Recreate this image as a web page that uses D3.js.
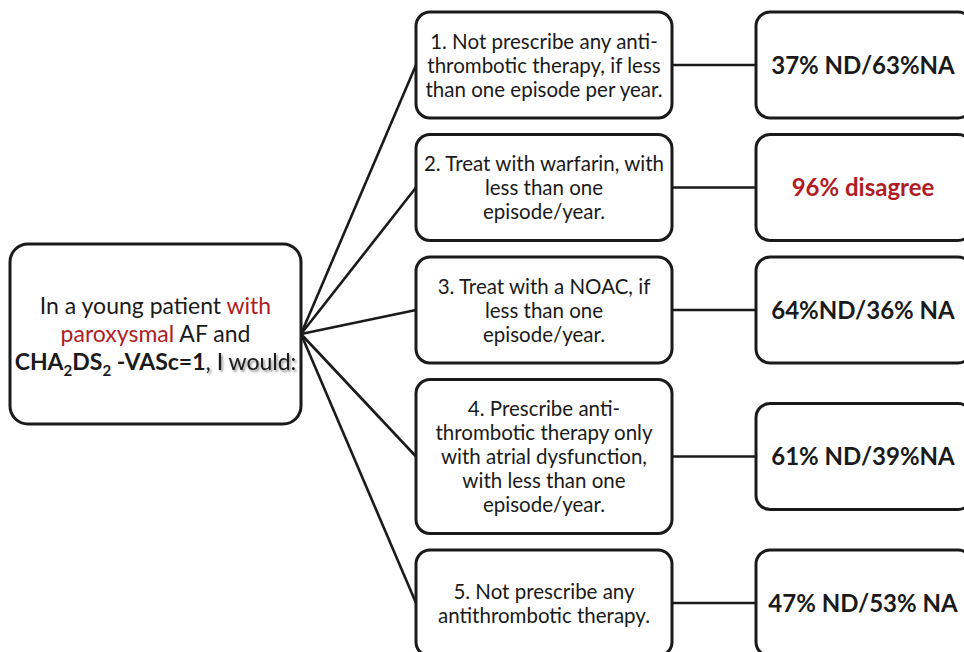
<!DOCTYPE html>
<html>
<head>
<meta charset="utf-8">
<script src="https://cdn.jsdelivr.net/npm/d3@7"></script>
<style>
  body { margin: 0; background: #fff; }
  svg { display: block; }
</style>
</head>
<body>
<div id="chart"></div>
<script>
// question shown in the left box, as runs of text per line
const questionLines = [
  [{t: "In a young patient "}, {t: "with", red: true}],
  [{t: "paroxysmal", red: true}, {t: " AF and"}],
  [{t: "CHA", b: true}, {t: "2", b: true, sub: true}, {t: "DS", b: true}, {t: "2", b: true, sub: true},
   {t: " -VASc=1", b: true}, {t: ", I would:", shadow: true}]
];

const options = [
  ["1. Not prescribe any anti-", "thrombotic therapy, if less", "than one episode per year."],
  ["2. Treat with warfarin, with", "less than one", "episode/year."],
  ["3. Treat with a NOAC, if", "less than one", "episode/year."],
  ["4. Prescribe anti-", "thrombotic therapy only", "with atrial dysfunction,", "with less than one", "episode/year."],
  ["5. Not prescribe any", "antithrombotic therapy."]
];

const outcomes = ["37% ND/63%NA", "96% disagree", "64%ND/36% NA", "61% ND/39%NA", "47% ND/53% NA"];
const outcomeHighlight = [false, true, false, false, false];

const width = 964, height = 652;
const red = "#b01c24";
const ink = "#1a1a1a";
const font = "Lato, 'Open Sans', sans-serif";

const svg = d3.select("#chart").append("svg")
    .attr("width", width)
    .attr("height", height);

const defs = svg.append("defs");
const shadow = defs.append("filter").attr("id", "shadow")
    .attr("x", "-10%").attr("y", "-30%").attr("width", "130%").attr("height", "170%");
shadow.append("feDropShadow")
    .attr("dx", 1.5).attr("dy", 2).attr("stdDeviation", 1.2)
    .attr("flood-color", "#000").attr("flood-opacity", 0.45);

// layout of the column boxes
const lineH = 24;
const gap = 16.5;
const optHeights = options.map(o => o.length > 3 ? o.length * lineH + 34 : 106);
let yAcc = 12;
const optBoxes = options.map((o, i) => {
  const b = {x: 416, y: yAcc, w: 256, h: optHeights[i], lines: o};
  yAcc += optHeights[i] + gap;
  b.cy = b.y + b.h / 2;
  return b;
});
const outBoxes = outcomes.map((t, i) => ({x: 756, w: 216, h: 106, y: optBoxes[i].cy - 53, cy: optBoxes[i].cy, text: t, hi: outcomeHighlight[i]}));
const root = {x: 10, y: 244, w: 291, h: 180};
root.cy = root.y + root.h / 2;
const hub = [root.x + root.w, root.cy];

// connectors
const links = svg.append("g")
    .attr("stroke", ink).attr("stroke-width", 2.6).attr("fill", "none");
links.selectAll("line.fan")
  .data(optBoxes)
  .join("line")
    .attr("class", "fan")
    .attr("x1", hub[0]).attr("y1", hub[1])
    .attr("x2", d => d.x).attr("y2", d => d.cy);
links.selectAll("line.link")
  .data(outBoxes)
  .join("line")
    .attr("class", "link")
    .attr("x1", (d, i) => optBoxes[i].x + optBoxes[i].w).attr("y1", d => d.cy)
    .attr("x2", d => d.x).attr("y2", d => d.cy);

function box(g, b, r) {
  g.append("rect")
    .attr("x", b.x).attr("y", b.y).attr("width", b.w).attr("height", b.h)
    .attr("rx", r).attr("ry", r)
    .attr("fill", "#fff").attr("stroke", ink).attr("stroke-width", 3);
}

// root box
const rg = svg.append("g");
box(rg, root, 18);
const rootLineH = 28;
const rootText = rg.append("text")
    .attr("font-family", font).attr("font-size", 23)
    .attr("text-anchor", "middle").attr("fill", ink);
questionLines.forEach((runs, li) => {
  const line = rootText.append("tspan")
      .attr("x", root.x + root.w / 2)
      .attr("y", root.cy + (li - 1) * rootLineH + 8);
  runs.forEach(r => {
    const s = line.append("tspan").text(r.t);
    if (r.red) s.attr("fill", red);
    if (r.b) s.attr("font-weight", "bold");
    if (r.sub) s.attr("font-size", 15).attr("dy", 6);
    if (r.shadow) s.attr("filter", "url(#shadow)");
  });
});
// undo subscript shifts
rootText.selectAll("tspan").filter(function () { return this.getAttribute("font-size") === "15"; })
  .each(function () {
    const next = this.nextSibling;
    if (next) d3.select(next).attr("dy", -6);
  });

// option boxes
const og = svg.append("g");
optBoxes.forEach(b => {
  const g = og.append("g");
  box(g, b, 14);
  g.append("text")
      .attr("font-family", font).attr("font-size", 20.5)
      .attr("text-anchor", "middle").attr("fill", ink)
    .selectAll("tspan")
    .data(b.lines)
    .join("tspan")
      .attr("x", b.x + b.w / 2)
      .attr("y", (d, i) => b.cy + (i - (b.lines.length - 1) / 2) * lineH + 7.5)
      .text(d => d);
});

// outcome boxes
const ug = svg.append("g");
outBoxes.forEach(b => {
  const g = ug.append("g");
  box(g, b, 14);
  g.append("text")
      .attr("x", b.x + 107).attr("y", b.cy + 8.5)
      .attr("font-family", font).attr("font-size", 24).attr("font-weight", "bold")
      .attr("text-anchor", "middle")
      .attr("fill", b.hi ? red : ink)
      .text(b.text);
});
</script>
</body>
</html>
